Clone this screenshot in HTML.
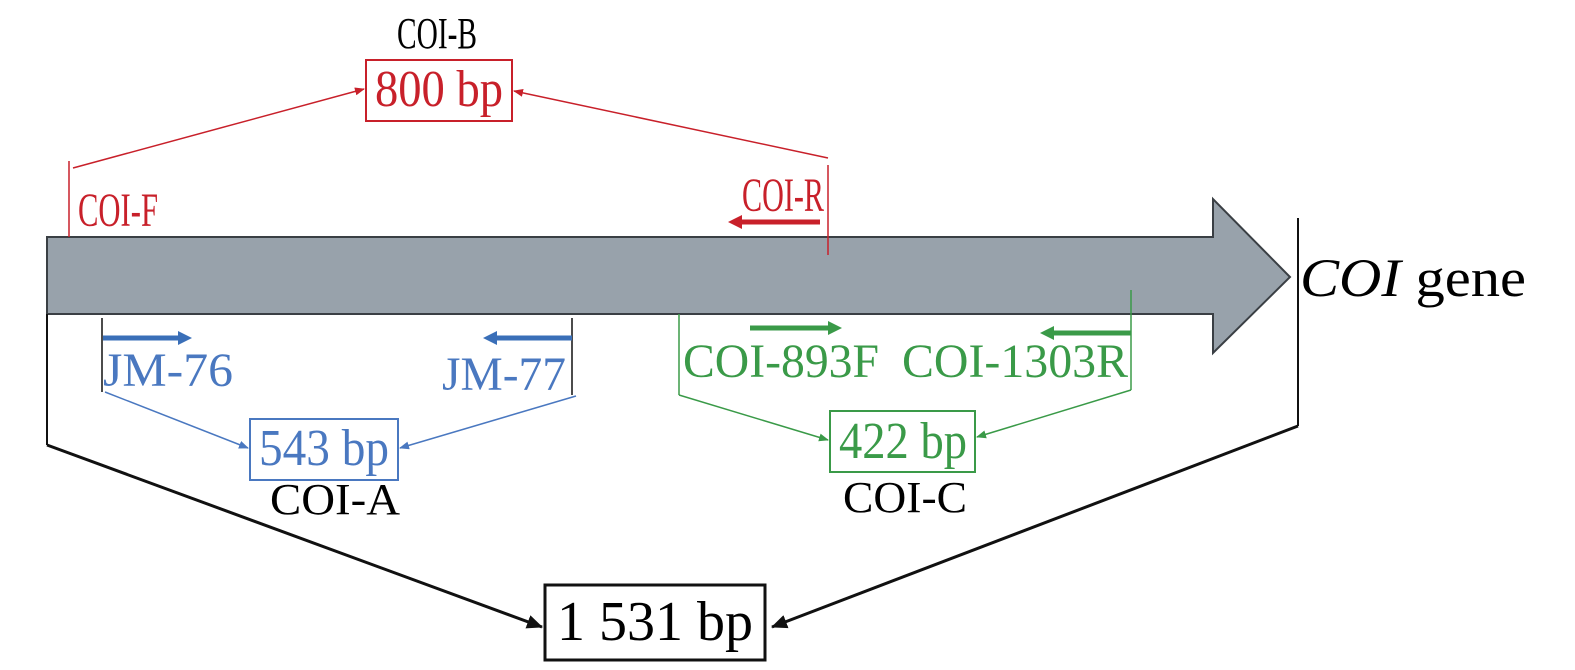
<!DOCTYPE html>
<html><head><meta charset="utf-8"><style>
html,body{margin:0;padding:0;background:#fff;width:1575px;height:670px;overflow:hidden}
svg text{font-family:"Liberation Serif","Times New Roman",Times,serif}
</style></head><body>
<svg width="1575" height="670" viewBox="0 0 1575 670" xmlns="http://www.w3.org/2000/svg" font-family="Liberation Serif, serif">
<defs>
<marker id="ar" markerWidth="10" markerHeight="10" refX="9" refY="5" orient="auto" markerUnits="userSpaceOnUse"><path d="M0,1 L10,5 L0,9 Z" fill="#c8202a"/></marker>
<marker id="ab" markerWidth="10" markerHeight="10" refX="9" refY="5" orient="auto" markerUnits="userSpaceOnUse"><path d="M0,1 L10,5 L0,9 Z" fill="#4a78c0"/></marker>
<marker id="ag" markerWidth="10" markerHeight="10" refX="9" refY="5" orient="auto" markerUnits="userSpaceOnUse"><path d="M0,1 L10,5 L0,9 Z" fill="#3a9a48"/></marker>
<marker id="ak" markerWidth="16" markerHeight="16" refX="15" refY="8" orient="auto" markerUnits="userSpaceOnUse"><path d="M0,1 L16,8 L0,15 Z" fill="#111"/></marker>
</defs>
<path d="M47,237 L1213,237 L1213,199 L1290,277 L1213,353 L1213,314 L47,314 Z" fill="#98a2ab" stroke="#3a3f44" stroke-width="2"/>
<line x1="1298" y1="218" x2="1298" y2="426" stroke="#111" stroke-width="2"/>
<line x1="1298" y1="426" x2="772" y2="627" stroke="#111" stroke-width="3" marker-end="url(#ak)"/>
<line x1="47" y1="314" x2="47" y2="445" stroke="#111" stroke-width="2"/>
<line x1="47" y1="445" x2="542" y2="627" stroke="#111" stroke-width="3" marker-end="url(#ak)"/>
<rect x="545" y="585" width="220" height="75" fill="#fff" stroke="#111" stroke-width="3"/>
<text x="655" y="640" font-size="56" text-anchor="middle" textLength="196" lengthAdjust="spacingAndGlyphs">1 531 bp</text>
<text x="1300" y="296" font-size="54" textLength="226" lengthAdjust="spacingAndGlyphs"><tspan font-style="italic">COI</tspan> gene</text>
<text x="437" y="48" font-size="44" text-anchor="middle" textLength="80" lengthAdjust="spacingAndGlyphs">COI-B</text>
<rect x="366" y="60" width="146" height="61" fill="#fff" stroke="#c8202a" stroke-width="2"/>
<text x="439" y="106" font-size="52" fill="#c8202a" text-anchor="middle" textLength="128" lengthAdjust="spacingAndGlyphs">800 bp</text>
<line x1="69" y1="161" x2="69" y2="237" stroke="#c8202a" stroke-width="1.5"/>
<line x1="73" y1="168" x2="364" y2="89" stroke="#c8202a" stroke-width="1.5" marker-end="url(#ar)"/>
<line x1="828" y1="165" x2="828" y2="255" stroke="#c8202a" stroke-width="1.5"/>
<line x1="828" y1="158" x2="514" y2="91" stroke="#c8202a" stroke-width="1.5" marker-end="url(#ar)"/>
<text x="78" y="226" font-size="48" fill="#c8202a" textLength="80" lengthAdjust="spacingAndGlyphs">COI-F</text>
<text x="824" y="211" font-size="48" fill="#c8202a" text-anchor="end" textLength="82" lengthAdjust="spacingAndGlyphs">COI-R</text>
<line x1="820" y1="222" x2="738" y2="222" stroke="#c8202a" stroke-width="5"/>
<path d="M728,222 L742,215 L742,229 Z" fill="#c8202a"/>
<line x1="102" y1="318" x2="102" y2="392" stroke="#111" stroke-width="1.5"/>
<line x1="572" y1="318" x2="572" y2="395" stroke="#111" stroke-width="1.5"/>
<line x1="103" y1="338" x2="180" y2="338" stroke="#3a6fb8" stroke-width="5"/>
<path d="M192,338 L178,331 L178,345 Z" fill="#3a6fb8"/>
<line x1="572" y1="338" x2="495" y2="338" stroke="#3a6fb8" stroke-width="5"/>
<path d="M483,338 L497,331 L497,345 Z" fill="#3a6fb8"/>
<text x="103" y="386" font-size="48" fill="#4a78c0" textLength="130" lengthAdjust="spacingAndGlyphs">JM-76</text>
<text x="566" y="390" font-size="48" fill="#4a78c0" text-anchor="end" textLength="124" lengthAdjust="spacingAndGlyphs">JM-77</text>
<line x1="105" y1="392" x2="248" y2="448" stroke="#4a78c0" stroke-width="1.5" marker-end="url(#ab)"/>
<line x1="576" y1="396" x2="400" y2="448" stroke="#4a78c0" stroke-width="1.5" marker-end="url(#ab)"/>
<rect x="250" y="419" width="148" height="61" fill="#fff" stroke="#4a78c0" stroke-width="2"/>
<text x="324" y="465" font-size="52" fill="#4a78c0" text-anchor="middle" textLength="130" lengthAdjust="spacingAndGlyphs">543 bp</text>
<text x="335" y="514" font-size="44" text-anchor="middle" textLength="130" lengthAdjust="spacingAndGlyphs">COI-A</text>
<line x1="679" y1="314" x2="679" y2="395" stroke="#3a9a48" stroke-width="1.5"/>
<line x1="1131" y1="290" x2="1131" y2="390" stroke="#3a9a48" stroke-width="1.5"/>
<line x1="750" y1="328" x2="830" y2="328" stroke="#3a9a48" stroke-width="5"/>
<path d="M842,328 L828,321 L828,335 Z" fill="#3a9a48"/>
<line x1="1131" y1="333" x2="1052" y2="333" stroke="#3a9a48" stroke-width="5"/>
<path d="M1040,333 L1054,326 L1054,340 Z" fill="#3a9a48"/>
<text x="683" y="377" font-size="48" fill="#3a9a48" textLength="196" lengthAdjust="spacingAndGlyphs">COI-893F</text>
<text x="1128" y="377" font-size="48" fill="#3a9a48" text-anchor="end" textLength="226" lengthAdjust="spacingAndGlyphs">COI-1303R</text>
<line x1="679" y1="395" x2="828" y2="440" stroke="#3a9a48" stroke-width="1.5" marker-end="url(#ag)"/>
<line x1="1131" y1="390" x2="977" y2="437" stroke="#3a9a48" stroke-width="1.5" marker-end="url(#ag)"/>
<rect x="830" y="411" width="145" height="61" fill="#fff" stroke="#3a9a48" stroke-width="2"/>
<text x="903" y="458" font-size="52" fill="#3a9a48" text-anchor="middle" textLength="128" lengthAdjust="spacingAndGlyphs">422 bp</text>
<text x="905" y="512" font-size="44" text-anchor="middle" textLength="124" lengthAdjust="spacingAndGlyphs">COI-C</text>
</svg>
</body></html>
